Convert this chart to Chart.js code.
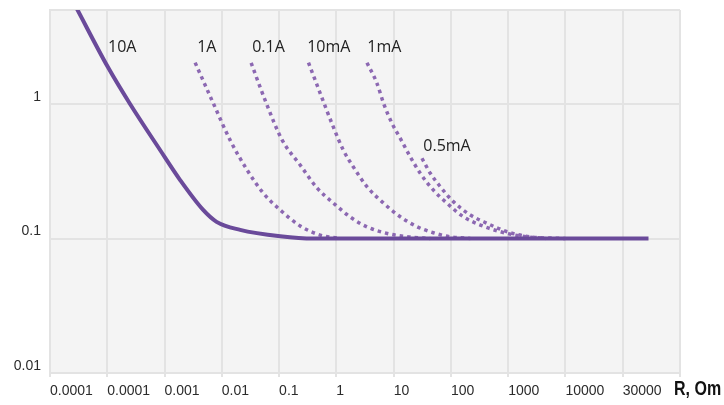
<!DOCTYPE html>
<html>
<head>
<meta charset="utf-8">
<script src="https://cdn.jsdelivr.net/npm/chart.js@4"></script>
<style>
    html, body { margin: 0; padding: 0; background: #fff; }
    #wrap { width: 724px; height: 405px; }
</style>
</head>
<body>
<div id="wrap"><canvas id="chart" width="724" height="405"></canvas></div>
<script>
// x is measured in "label slots": 0 = first tick label, 11 = right edge
const xTickLabels = ['0.0001', '0.0001', '0.001', '0.01', '0.1', '1', '10', '100', '1000', '10000', '30000'];
const yTickValues = [0.01, 0.1, 1];
const yMax = 5;

const seriesNames = ['10A', '1A', '0.1A', '10mA', '1mA', '0.5mA'];

const x10A = [0.454, 1.008, 1.398, 1.922, 2.272, 2.674, 2.908, 3.32, 4.02, 4.6, 10.45];
const y10A = [5.26, 1.89, 1.00, 0.455, 0.272, 0.163, 0.133, 0.116, 0.104, 0.100, 0.100];

const x1A = [2.534, 2.848, 3.145, 3.442, 3.722, 4.019, 4.368, 4.718, 5.067];
const y1A = [2.03, 1.02, 0.539, 0.323, 0.218, 0.163, 0.124, 0.106, 0.100];

const x01A = [3.512, 3.774, 4.054, 4.368, 4.665, 4.945, 5.242, 5.539, 5.889, 6.29, 6.64];
const y01A = [2.02, 1.02, 0.539, 0.352, 0.237, 0.184, 0.1445, 0.1218, 0.109, 0.1026, 0.100];

const x10mA = [4.513, 4.718, 4.945, 5.12, 5.294, 5.534, 5.819, 6.116, 6.407, 6.692, 6.989, 7.339];
const y10mA = [2.03, 1.20, 0.678, 0.455, 0.342, 0.243, 0.184, 0.145, 0.1225, 0.1104, 0.103, 0.100];

const x1mA = [5.534, 5.709, 5.824, 5.971, 6.116, 6.29, 6.465, 6.692, 6.932, 7.217, 7.514, 7.864, 8.213, 8.65];
const y1mA = [2.03, 1.425, 1.012, 0.719, 0.556, 0.4055, 0.3055, 0.2296, 0.183, 0.145, 0.126, 0.1123, 0.1044, 0.100];

const x05mA = [6.495, 6.64, 6.815, 7.042, 7.339, 7.631, 7.98, 8.387, 8.999];
const y05mA = [0.395, 0.3055, 0.2427, 0.188, 0.1496, 0.1297, 0.1123, 0.103, 0.100];

// where the curve names sit (left edge, middle of text), in data units
const labelX = [1.013, 2.569, 3.53, 4.49, 5.539, 6.518];
const labelY = [2.65, 2.65, 2.65, 2.65, 2.65, 0.487];

const seriesX = [x10A, x1A, x01A, x10mA, x1mA, x05mA];
const seriesY = [y10A, y1A, y01A, y10mA, y1mA, y05mA];

const solidColor = '#6a4a9a';
const dotColor = '#8c68b2';
const gridColor = '#e3e3e3';
const tickFont = '"Liberation Sans", Arial, sans-serif';

const datasets = seriesNames.map((name, i) => ({
    label: name,
    data: seriesX[i].map((x, j) => ({ x: x, y: seriesY[i][j] })),
    borderColor: i === 0 ? solidColor : dotColor,
    borderWidth: i === 0 ? 4 : 3.5,
    borderDash: i === 0 ? [] : [3.5, 4],
    borderCapStyle: 'butt',
    cubicInterpolationMode: 'monotone',
    pointRadius: 0,
    fill: false,
    order: i === 0 ? 0 : 1 // solid line on top
}));

// grey plot background
const plotBg = {
    id: 'plotBg',
    beforeDraw(chart) {
        const { ctx, chartArea: a } = chart;
        ctx.save();
        ctx.fillStyle = '#f4f4f4';
        ctx.fillRect(a.left, a.top, a.right - a.left, a.bottom - a.top);
        ctx.restore();
    }
};

// curve names and axis caption
const curveLabels = {
    id: 'curveLabels',
    afterDraw(chart) {
        const { ctx, scales } = chart;
        ctx.save();
        ctx.fillStyle = '#222';
        ctx.font = '16px "Open Sans", sans-serif';
        ctx.textAlign = 'left';
        ctx.textBaseline = 'middle';
        seriesNames.forEach((name, i) => {
            ctx.fillText(name, scales.x.getPixelForValue(labelX[i]), scales.y.getPixelForValue(labelY[i]));
        });
        // condensed bold caption, squeezed by hand
        ctx.font = 'bold 20px ' + tickFont;
        ctx.textBaseline = 'alphabetic';
        ctx.fillStyle = '#111';
        ctx.translate(chart.chartArea.right - 6, 395);
        ctx.scale(0.8, 1);
        ctx.fillText('R, Om', 0, 0);
        ctx.restore();
    }
};

new Chart(document.getElementById('chart'), {
    type: 'line',
    data: { datasets: datasets },
    options: {
        responsive: false,
        animation: false,
        layout: { padding: { top: 10, right: 44, left: 0, bottom: 0 } },
        plugins: { legend: { display: false }, tooltip: { enabled: false } },
        scales: {
            x: {
                type: 'linear',
                min: 0,
                max: xTickLabels.length,
                afterBuildTicks: (scale) => {
                    scale.ticks = [];
                    for (let i = 0; i <= xTickLabels.length; i++) scale.ticks.push({ value: i });
                },
                afterFit: (scale) => { scale.height = 32; },
                grid: { color: gridColor, lineWidth: 2, tickLength: 4 },
                border: { color: gridColor, width: 2 },
                ticks: {
                    align: 'start',
                    autoSkip: false,
                    maxRotation: 0,
                    padding: 6,
                    color: '#2b2b2b',
                    font: { family: tickFont, size: 14 },
                    callback: (v) => xTickLabels[v] ?? ''
                }
            },
            y: {
                type: 'logarithmic',
                min: 0.01,
                max: yMax,
                afterBuildTicks: (scale) => {
                    scale.ticks = yTickValues.concat([yMax]).map(v => ({ value: v }));
                },
                afterFit: (scale) => {
                    scale.width = 50;
                    // labels sit above their lines, no extra room needed
                    scale.paddingTop = 0;
                    scale.paddingBottom = 0;
                },
                grid: { color: gridColor, lineWidth: 2, drawTicks: false },
                border: { color: gridColor, width: 2 },
                ticks: {
                    padding: 9,
                    labelOffset: -7,
                    color: '#2b2b2b',
                    font: { family: tickFont, size: 14 },
                    callback: (v) => yTickValues.includes(v) ? String(v) : ''
                }
            }
        }
    },
    plugins: [plotBg, curveLabels]
});
</script>
</body>
</html>
